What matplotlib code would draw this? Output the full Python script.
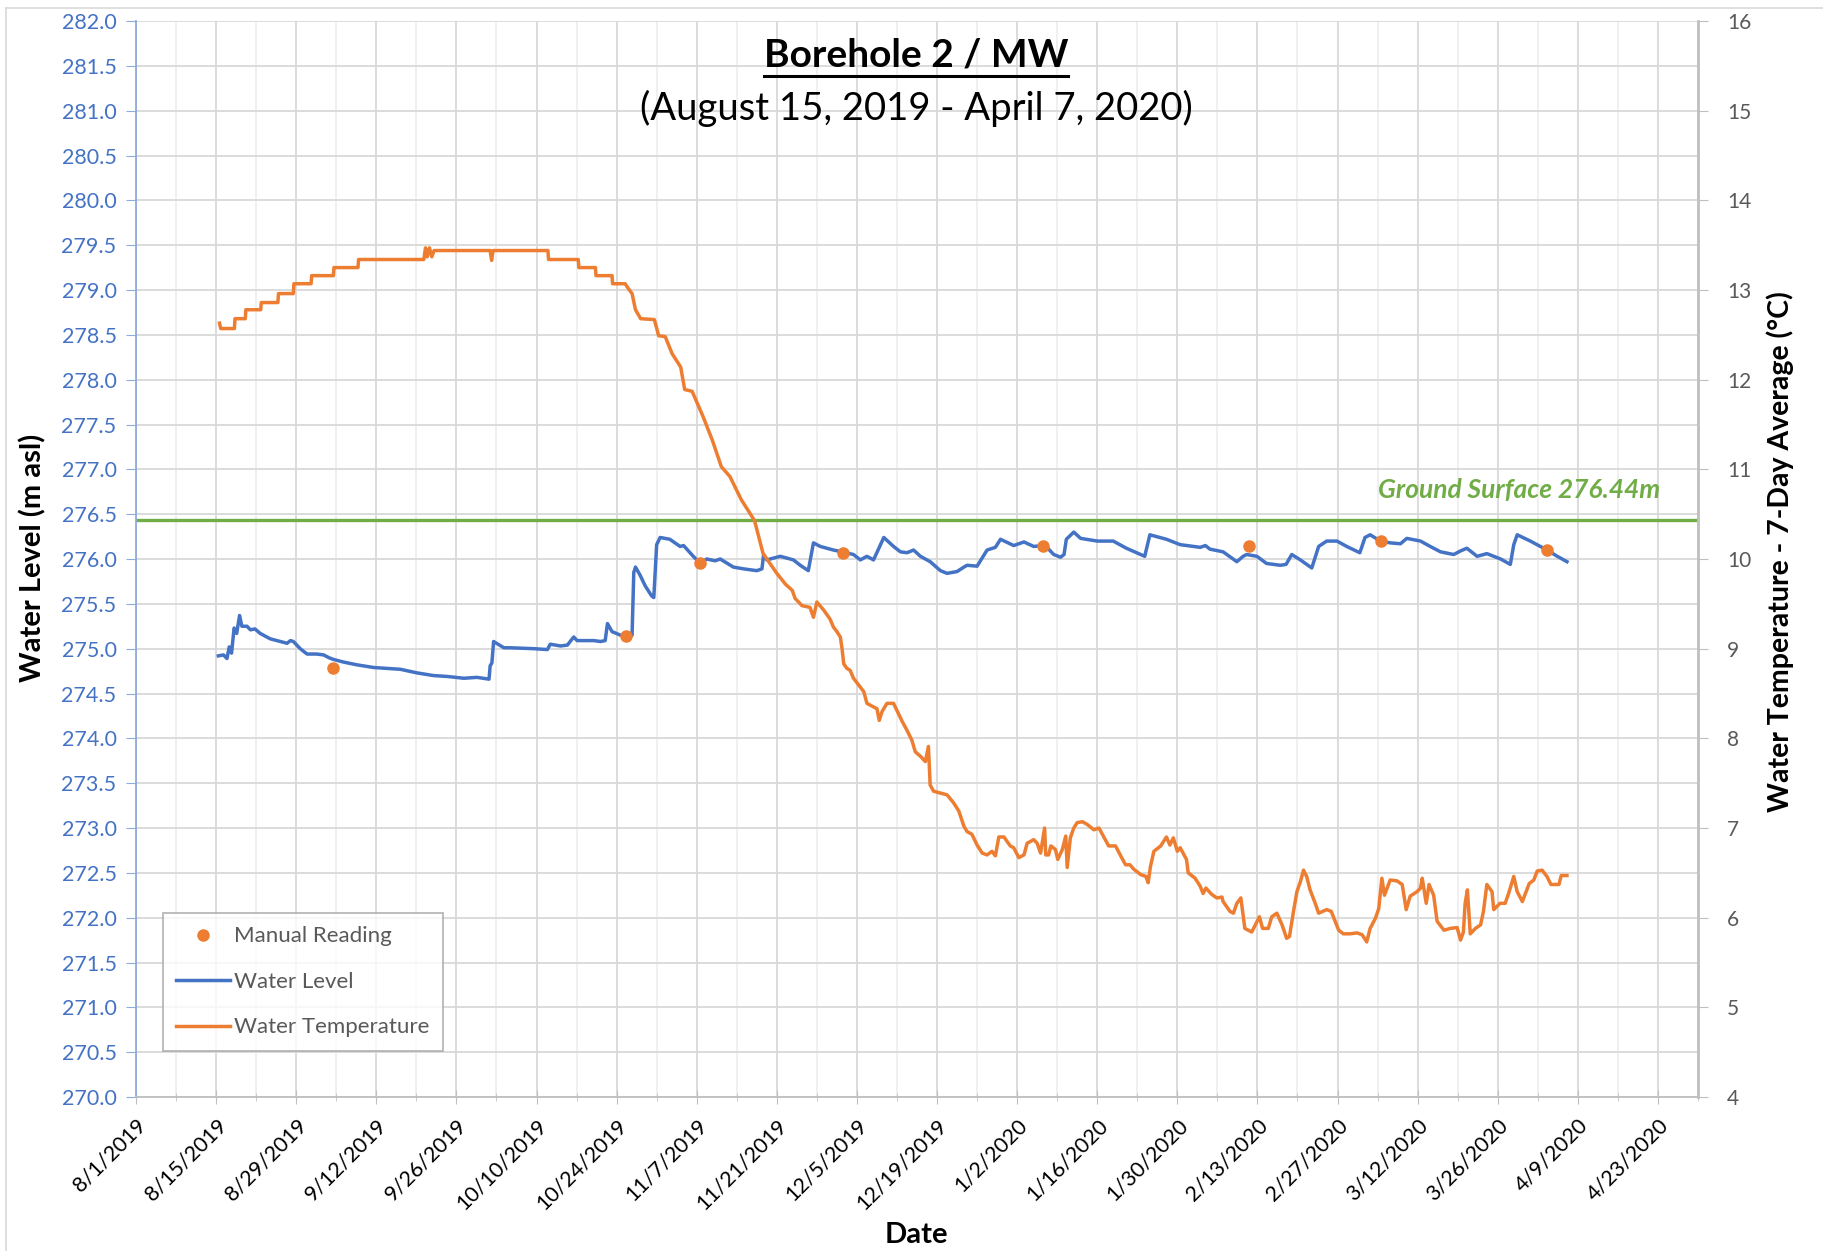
import numpy as np
import matplotlib
matplotlib.use("Agg")
import matplotlib.pyplot as plt
from matplotlib.lines import Line2D

plt.rcParams['font.family'] = ['Lato', 'DejaVu Sans']

# days are counted from 8/1/2019
base_date = np.datetime64('2019-08-01T00:00')

level_day = [14.4, 15.3, 15.9, 16.3, 16.7, 17.15, 17.6, 18.1, 18.5, 19.4, 20.0, 20.8, 21.7, 23.45, 25.2,
             26.4, 27.0, 27.5, 28.7, 29.9, 31.6, 32.8, 33.7, 34.5, 36.3, 38.6, 41.5, 43.9, 46.2, 49.1,
             52.0, 54.4, 57.3, 59.6, 61.7, 61.9, 62.2, 62.5, 64.3, 65.4, 69.5, 71.9, 72.4, 74.2, 75.4,
             76.5, 77.1, 80.0, 81.2, 82.0, 82.4, 83.2, 84.7, 86.7, 87.0, 87.3, 88.1, 89.0, 90.1, 90.5,
             91.0, 91.6, 93.3, 95.1, 95.7, 97.4, 98.6, 99.75, 101.2, 102.1, 104.4, 106.2, 108.5, 109.4,
             109.7, 110.25, 111.4, 112.6, 113.75, 114.9, 116.1, 117.5, 118.4, 119.6, 121.9, 123.4,
             125.4, 126.6, 127.75, 128.9, 130.7, 132.4, 133.6, 134.75, 135.9, 137.1, 138.8, 140.6,
             141.75, 143.5, 144.7, 145.25, 147.0, 148.75, 150.2, 151.1, 153.4, 155.2, 156.9, 158.5,
             159.5, 160.4, 161.6, 162.2, 162.6, 163.9, 165.1, 168.0, 170.8, 173.1, 176.3, 177.2,
             180.1, 182.5, 186.0, 186.9, 187.7, 190.0, 192.4, 193.5, 194.1, 195.9, 197.6, 200.0,
             201.0, 202.0, 203.5, 205.5, 206.7, 208.1, 209.9, 211.6, 213.9, 214.8, 215.7, 217.5,
             219.2, 221.0, 222.1, 224.5, 226.2, 228.0, 230.3, 231.5, 232.6, 234.4, 236.1, 238.5,
             240.2, 240.8, 241.4, 243.7, 246.6, 248.4, 250.1]
level_m = [274.92, 274.93, 274.89, 275.02, 274.95, 275.23, 275.17, 275.37, 275.25, 275.25, 275.21,
           275.22, 275.17, 275.11, 275.08, 275.06, 275.09, 275.08, 275.00, 274.94, 274.94, 274.93,
           274.90, 274.88, 274.85, 274.82, 274.79, 274.78, 274.77, 274.73, 274.70, 274.69, 274.67,
           274.68, 274.66, 274.81, 274.84, 275.08, 275.01, 275.01, 275.00, 274.99, 275.05, 275.03,
           275.04, 275.13, 275.09, 275.09, 275.08, 275.09, 275.28, 275.19, 275.15, 275.15, 275.85,
           275.91, 275.82, 275.70, 275.59, 275.57, 276.16, 276.24, 276.22, 276.14, 276.15, 276.03,
           275.95, 276.00, 275.98, 276.00, 275.91, 275.89, 275.87, 275.89, 276.05, 275.99, 276.01,
           276.03, 276.01, 275.99, 275.93, 275.87, 276.18, 276.14, 276.10, 276.08, 276.05, 275.99,
           276.03, 275.99, 276.24, 276.14, 276.08, 276.07, 276.10, 276.03, 275.97, 275.87, 275.84,
           275.86, 275.91, 275.93, 275.92, 276.10, 276.13, 276.22, 276.15, 276.19, 276.14, 276.15,
           276.11, 276.05, 276.02, 276.05, 276.22, 276.30, 276.23, 276.20, 276.20, 276.12, 276.03,
           276.27, 276.22, 276.16, 276.13, 276.15, 276.11, 276.08, 275.97, 276.03, 276.05, 276.03,
           275.95, 275.93, 275.94, 276.05, 275.99, 275.90, 276.14, 276.20, 276.20, 276.14, 276.07,
           276.24, 276.27, 276.20, 276.18, 276.17, 276.23, 276.20, 276.14, 276.08, 276.05, 276.09,
           276.12, 276.03, 276.06, 276.00, 275.94, 276.16, 276.27, 276.20, 276.10, 276.03, 275.97]

temp_day = [14.6, 14.8, 17.2, 17.3, 19.1, 19.2, 21.8, 21.9, 24.8, 24.9, 27.5, 27.6, 30.6, 30.7, 34.5,
            34.6, 38.8, 38.9, 50.3, 50.6, 50.9, 51.3, 51.7, 52.1, 61.9, 62.15, 62.4, 72.0, 72.1, 77.3,
            77.4, 80.3, 80.4, 83.2, 83.3, 85.5, 86.0, 86.7, 87.3, 88.2, 90.6, 91.35, 92.5, 93.7, 95.2,
            95.9, 97.2, 99.1, 100.7, 102.3, 103.8, 105.8, 108.1, 109.6, 112.0, 113.5, 114.7, 115.2,
            116.4, 117.8, 118.4, 119.0, 120.2, 121.3, 121.9, 122.5, 123.1, 123.4, 123.7, 124.25,
            124.8, 125.4, 126.6, 127.2, 127.75, 128.9, 129.5, 129.9, 130.4, 131.25, 132.4, 133.0,
            133.9, 134.75, 135.6, 136.2, 137.1, 137.96, 138.5, 138.8, 139.4, 140.6, 141.75, 142.9,
            143.8, 144.7, 145.25, 146.1, 147.0, 147.9, 148.75, 149.6, 150.2, 150.8, 151.7, 152.8,
            153.4, 154.3, 155.2, 155.75, 156.9, 157.5, 158.1, 158.8, 159.0, 159.5, 159.9, 160.7,
            161.1, 161.9, 162.5, 162.75, 163.3, 163.9, 164.5, 165.4, 166.25, 167.4, 168.3, 168.9,
            170.0, 171.2, 172.1, 172.95, 173.7, 174.4, 175.6, 176.5, 176.9, 177.3, 177.9, 179.1,
            180.1, 180.7, 181.3, 182.0, 182.5, 183.6, 183.9, 185.1, 186.0, 186.5, 187.0, 188.0,
            188.9, 189.8, 190.0, 191.2, 191.8, 192.4, 193.1, 193.8, 195.0, 196.35, 196.9, 197.9,
            198.5, 199.4, 200.3, 201.1, 201.6, 202.3, 202.9, 203.5, 204.05, 204.6, 205.2, 206.1,
            206.7, 208.1, 208.9, 209.4, 210.2, 211.0, 212.2, 213.4, 214.3, 215.1, 215.7, 216.6,
            217.2, 217.75, 218.2, 219.2, 220.4, 221.3, 222.0, 222.7, 223.9, 224.5, 224.8, 225.5,
            226.0, 226.8, 227.4, 228.6, 229.7, 230.9, 231.5, 232.0, 232.3, 232.7, 233.2, 234.1,
            235.0, 235.5, 236.1, 237.0, 237.3, 238.4, 239.3, 239.9, 240.8, 241.4, 242.3, 243.5,
            244.3, 244.9, 245.75, 246.6, 247.3, 248.7, 249.1, 250.1]
temp_c = [12.63, 12.57, 12.57, 12.68, 12.68, 12.78, 12.78, 12.86, 12.86, 12.96, 12.96, 13.07, 13.07,
          13.16, 13.16, 13.25, 13.25, 13.34, 13.34, 13.47, 13.37, 13.47, 13.37, 13.44, 13.44, 13.33,
          13.44, 13.44, 13.34, 13.34, 13.25, 13.25, 13.16, 13.16, 13.07, 13.07, 13.02, 12.96, 12.78,
          12.68, 12.67, 12.49, 12.48, 12.29, 12.14, 11.89, 11.87, 11.59, 11.33, 11.03, 10.92, 10.66,
          10.43, 10.06, 9.84, 9.72, 9.65, 9.56, 9.48, 9.46, 9.35, 9.52, 9.43, 9.33, 9.24, 9.19, 9.13,
          9.00, 8.83, 8.78, 8.76, 8.67, 8.57, 8.52, 8.39, 8.35, 8.33, 8.20, 8.30, 8.39, 8.39, 8.31,
          8.19, 8.09, 7.98, 7.85, 7.80, 7.74, 7.91, 7.48, 7.41, 7.39, 7.37, 7.28, 7.19, 7.02, 6.96,
          6.93, 6.81, 6.72, 6.70, 6.74, 6.69, 6.90, 6.90, 6.80, 6.78, 6.67, 6.70, 6.83, 6.87, 6.83,
          6.72, 7.00, 6.70, 6.70, 6.80, 6.76, 6.65, 6.76, 6.91, 6.56, 6.89, 7.00, 7.06, 7.07, 7.04,
          6.98, 7.00, 6.93, 6.80, 6.80, 6.69, 6.59, 6.59, 6.54, 6.48, 6.46, 6.39, 6.57, 6.74, 6.80,
          6.90, 6.81, 6.89, 6.74, 6.78, 6.65, 6.50, 6.44, 6.35, 6.27, 6.33, 6.26, 6.22, 6.23, 6.18,
          6.07, 6.05, 6.16, 6.22, 5.88, 5.84, 6.01, 5.88, 5.88, 6.01, 6.05, 5.92, 5.77, 5.79, 6.07,
          6.29, 6.40, 6.53, 6.46, 6.31, 6.16, 6.05, 6.09, 6.07, 5.99, 5.86, 5.82, 5.82, 5.83, 5.81,
          5.73, 5.88, 5.99, 6.10, 6.44, 6.25, 6.42, 6.41, 6.37, 6.09, 6.24, 6.29, 6.33, 6.44, 6.16,
          6.37, 6.25, 5.96, 5.86, 5.88, 5.89, 5.75, 5.84, 6.16, 6.31, 5.82, 5.88, 5.92, 6.07, 6.37,
          6.29, 6.09, 6.16, 6.16, 6.27, 6.46, 6.29, 6.18, 6.38, 6.42, 6.52, 6.53, 6.46, 6.37, 6.37,
          6.47, 6.47]

manual_day = [34.5, 85.6, 98.6, 123.5, 158.5, 194.5, 217.6, 246.6]
manual_m = [274.78, 275.14, 275.95, 276.07, 276.15, 276.15, 276.20, 276.10]

ground_surface = 276.44


def to_dates(days):
    return base_date + (np.array(days) * 24 * 60).astype('timedelta64[m]')


W, H = 1824, 1251
fig = plt.figure(figsize=(W / 100, H / 100), dpi=100)
ax = fig.add_axes([136 / W, 1 - 1097 / H, (1698 - 136) / W, (1097 - 21) / H])
ax2 = ax.twinx()

blue = '#4472C4'
orange = '#ED7D31'
green = '#70AD47'

ax.axhline(ground_surface, color=green, lw=2.4, zorder=2)
ax.plot(to_dates(level_day), level_m, color=blue, lw=2.5, zorder=3)
ax.plot(to_dates(manual_day), manual_m, 'o', color=orange, ms=8, zorder=4)
ax2.plot(to_dates(temp_day), temp_c, color=orange, lw=2.5)

# x axis: major every 2 weeks, minor every week
major = np.arange(np.datetime64('2019-08-01'), np.datetime64('2020-04-24'), np.timedelta64(14, 'D'))
minor = np.arange(np.datetime64('2019-08-01'), np.datetime64('2020-05-01'), np.timedelta64(7, 'D'))
labels = []
for d in major.astype(object):
    labels.append(f"{d.month}/{d.day}/{d.year}")
ax.set_xlim(np.datetime64('2019-08-01'), np.datetime64('2020-04-30'))
ax.set_xticks(major)
ax.set_xticklabels(labels, rotation=45, ha='right', rotation_mode='anchor', fontsize=15.5)
ax.set_xticks(minor, minor=True)
ax.tick_params(axis='x', which='major', direction='inout', length=10, color='#BFBFBF', pad=8)
ax.tick_params(axis='x', which='minor', direction='inout', length=6, color='#BFBFBF')

ax.set_ylim(270, 282)
ax.set_yticks(np.arange(270, 282.01, 0.5))
ax.set_yticklabels([f"{v:.1f}" for v in np.arange(270, 282.01, 0.5)])
ax.tick_params(axis='y', direction='out', length=7, color='#8FAADC', labelcolor=blue, labelsize=15.5, pad=7)

ax2.set_ylim(4, 16)
ax2.set_yticks(np.arange(4, 17, 1))
ax2.tick_params(axis='y', direction='out', length=7, color='#BFBFBF', labelcolor='#595959', labelsize=15, pad=14)

ax.grid(which='major', axis='x', color='#D9D9D9', lw=1.3)
ax.grid(which='minor', axis='x', color='#EFEFEF', lw=1.3)
ax.grid(which='major', axis='y', color='#D9D9D9', lw=1.3)
ax.set_axisbelow(True)

for s in ['top', 'right']:
    ax.spines[s].set_visible(False)
ax.spines['left'].set_color('#8FAADC')
ax.spines['left'].set_linewidth(1.3)
ax.spines['bottom'].set_color('#BFBFBF')
ax.spines['bottom'].set_linewidth(1.3)
for s in ['top', 'left', 'bottom']:
    ax2.spines[s].set_visible(False)
ax2.spines['right'].set_color('#BFBFBF')
ax2.spines['right'].set_linewidth(2)

ax.text(to_dates([266.4])[0], 276.77, 'Ground Surface 276.44m', color=green, fontsize=19,
        fontweight='bold', fontstyle='italic', ha='right', va='center')

# titles and axis names
fig.text(916 / W, 1 - 55 / H, 'Borehole 2 / MW', ha='center', va='center', fontsize=28,
         fontweight='bold')
fig.add_artist(Line2D([(916 - 152) / W, (916 + 152) / W], [1 - 76 / H, 1 - 76 / H], color='black', lw=2.2))
fig.text(916 / W, 1 - 108 / H, '(August 15, 2019 - April 7, 2020)', ha='center', va='center',
         fontsize=27.5)
fig.text(916 / W, 1 - 1235 / H, 'Date', ha='center', va='center', fontsize=21, fontweight='bold')
fig.text(33 / W, 1 - 558 / H, 'Water Level (m asl)', ha='center', va='center', rotation=90,
         fontsize=21, fontweight='bold')
fig.text(1780 / W, 1 - 552 / H, 'Water Temperature - 7-Day Average (°C)', ha='center', va='center',
         rotation=90, fontsize=20.5, fontweight='bold')

# chart area border (left and top edges visible)
fig.add_artist(Line2D([6 / W, 6 / W], [0, 1 - 8 / H], color='#D9D9D9', lw=1.2))
fig.add_artist(Line2D([6 / W, 1], [1 - 8 / H, 1 - 8 / H], color='#D9D9D9', lw=1.2))

handles = [Line2D([], [], marker='o', ls='none', color=orange, ms=8),
           Line2D([], [], color=blue, lw=2.5),
           Line2D([], [], color=orange, lw=2.5)]
leg = fig.legend(handles, ['Manual Reading', 'Water Level', 'Water Temperature'],
                 loc='upper left', bbox_to_anchor=(163 / W, 1 - 913 / H), borderaxespad=0,
                 fontsize=16, labelcolor='#595959', frameon=True, fancybox=False,
                 edgecolor='#A6A6A6', handlelength=2.4, labelspacing=1.15, handletextpad=0.2,
                 borderpad=0.6)
leg.get_frame().set_linewidth(1.3)

fig.savefig('out.png', dpi=100)
